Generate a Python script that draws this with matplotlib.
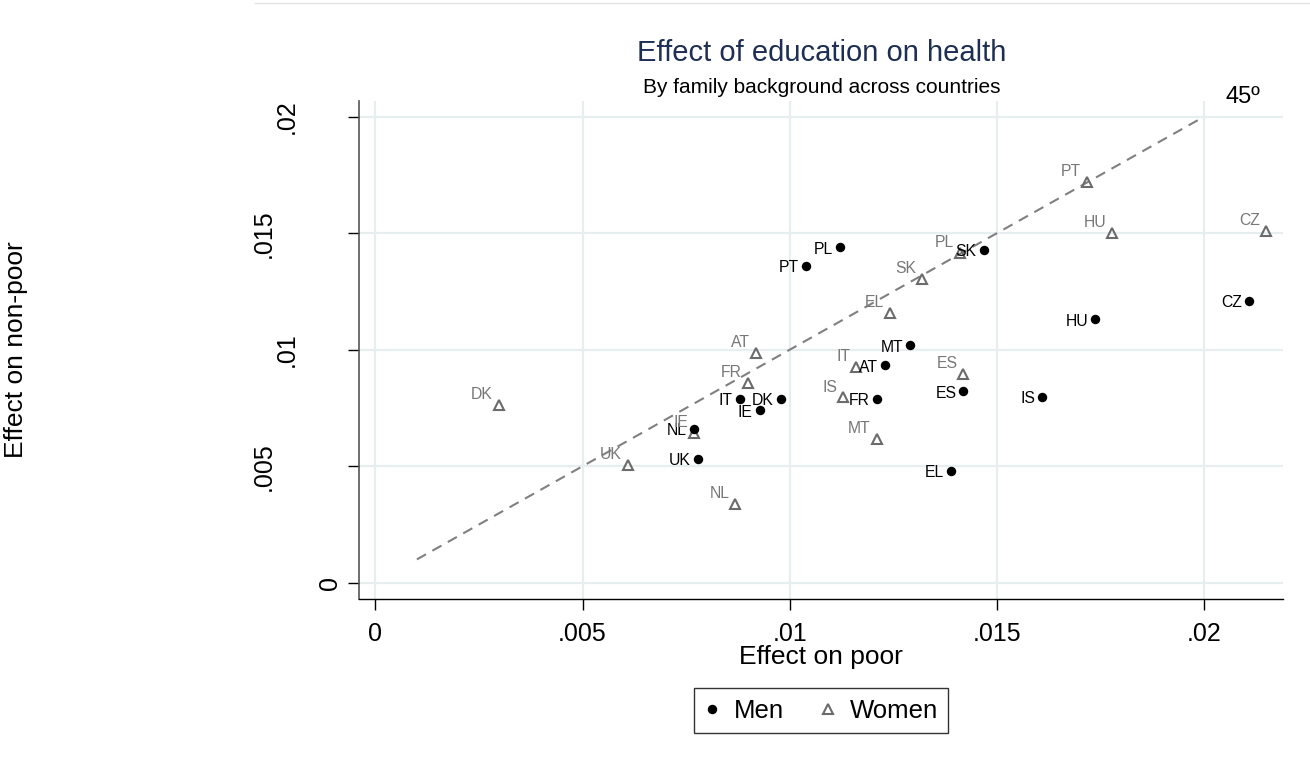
import matplotlib
matplotlib.use('Agg')
import matplotlib.pyplot as plt
from matplotlib.lines import Line2D

plt.rcParams['font.family'] = ['Liberation Sans', 'DejaVu Sans']

# Effect of education on health, poor (x) vs non-poor (y)
men_countries = ['PL', 'PT', 'SK', 'HU', 'CZ', 'MT', 'AT', 'FR', 'ES', 'IS',
                 'IT', 'DK', 'IE', 'NL', 'UK', 'EL']
men_poor = [0.01121, 0.01039, 0.01468, 0.01738, 0.02109, 0.0129, 0.0123, 0.0121,
            0.01419, 0.01609, 0.00879, 0.00978, 0.00927, 0.00769, 0.00778, 0.01389]
men_nonpoor = [0.0144, 0.01361, 0.01429, 0.01131, 0.0121, 0.0102, 0.00934, 0.0079,
               0.00822, 0.00799, 0.0079, 0.0079, 0.00741, 0.00661, 0.00533, 0.0048]

women_countries = ['PT', 'HU', 'CZ', 'PL', 'SK', 'EL', 'AT', 'IT', 'ES', 'FR',
                   'IS', 'DK', 'IE', 'MT', 'UK', 'NL']
women_poor = [0.01718, 0.01778, 0.0215, 0.0141, 0.01319, 0.01241, 0.00919, 0.0116,
              0.01419, 0.00899, 0.01129, 0.00298, 0.00769, 0.0121, 0.00609, 0.00869]
women_nonpoor = [0.01721, 0.01503, 0.01511, 0.01414, 0.01303, 0.01157, 0.00986, 0.00925,
                 0.00895, 0.00856, 0.00795, 0.00763, 0.00644, 0.00616, 0.00504, 0.00336]

ref_line = [0.001, 0.02]   # 45 degree line
ticks = [0, 0.005, 0.01, 0.015, 0.02]
tick_labels = ['0', '.005', '.01', '.015', '.02']

W, H = 1310, 771
fig = plt.figure(figsize=(W / 100, H / 100), dpi=100)
ax = fig.add_axes([359 / W, 1 - 599.3 / H, 924 / W, 498.6 / H])

grid_col = '#e6eef0'
gray = '#6b6b6b'

ax.set_xlim(-0.000398, 0.021907)
ax.set_ylim(-0.000712, 0.020687)
ax.set_xticks(ticks)
ax.set_xticklabels(tick_labels)
ax.set_yticks(ticks)
ax.set_yticklabels(tick_labels)
for v in ticks:
    ax.axvline(v, color=grid_col, lw=1.6, zorder=0)
    ax.axhline(v, color=grid_col, lw=1.6, zorder=0)

for s in ['top', 'right']:
    ax.spines[s].set_visible(False)
ax.spines['left'].set_color('#555555')
ax.spines['left'].set_linewidth(1.2)
ax.spines['bottom'].set_color('black')
ax.spines['bottom'].set_linewidth(1.0)

ax.tick_params(axis='both', direction='out', length=7.9, width=1.0, labelsize=18, color='black')
ax.tick_params(axis='x', pad=8.5)
for t in ax.get_yticklabels():
    t.set_rotation(90)
    t.set_va('center')
    t.set_ha('right')
for tk, p in zip(ax.yaxis.get_major_ticks(), [4.1, 52.3, 35.8, 52.3, 35.8]):
    tk.set_pad(p)

ax.plot(ref_line, ref_line, color='#808080', lw=1.5, dashes=(5, 3.5), zorder=2)
ax.text(0.02053, 0.02059, '45º', fontsize=17, ha='left', va='baseline', clip_on=False)

ax.plot(men_poor, men_nonpoor, 'o', color='black', markersize=6.8, mew=0,
        zorder=4, label='Men')
ax.plot(women_poor, women_nonpoor, '^', markerfacecolor='none', markeredgecolor=gray,
        markersize=6.8, mew=1.5, zorder=3, label='Women')

for c, x, y in zip(men_countries, men_poor, men_nonpoor):
    ax.annotate(c, (x, y), xytext=(-5, -1.5), textcoords='offset points',
                ha='right', va='center', fontsize=11.3, color='black', zorder=5)
for c, x, y in zip(women_countries, women_poor, women_nonpoor):
    ax.annotate(c, (x, y), xytext=(-4.3, 4.3), textcoords='offset points',
                ha='right', va='baseline', fontsize=11.3, color='#777777', zorder=5)

ax.set_xlabel('Effect on poor', fontsize=19)
ax.xaxis.set_label_coords(0.5, -0.0916)
ax.set_ylabel('Effect on non-poor', fontsize=19)
ax.yaxis.set_label_coords(-0.3582, 0.5)

fig.text(0.627, 1 - 61 / H, 'Effect of education on health', fontsize=21,
         color='#1e2f55', ha='center', va='baseline')
fig.text(0.627, 1 - 93 / H, 'By family background across countries', fontsize=15,
         color='black', ha='center', va='baseline')

fig.add_artist(Line2D([255 / W, 1.0], [1 - 3 / H, 1 - 3 / H], color='#e2e2e2', lw=1))

leg = ax.legend(loc='center', bbox_to_anchor=(821 / W, 1 - 710.7 / H),
                bbox_transform=fig.transFigure, ncol=2, fontsize=18.5,
                frameon=True, fancybox=False, borderpad=0.4, handlelength=0.6,
                handletextpad=0.55, columnspacing=1.4, borderaxespad=0)
leg.get_frame().set_edgecolor('black')
leg.get_frame().set_linewidth(1.0)

fig.savefig('out.png', dpi=100)
